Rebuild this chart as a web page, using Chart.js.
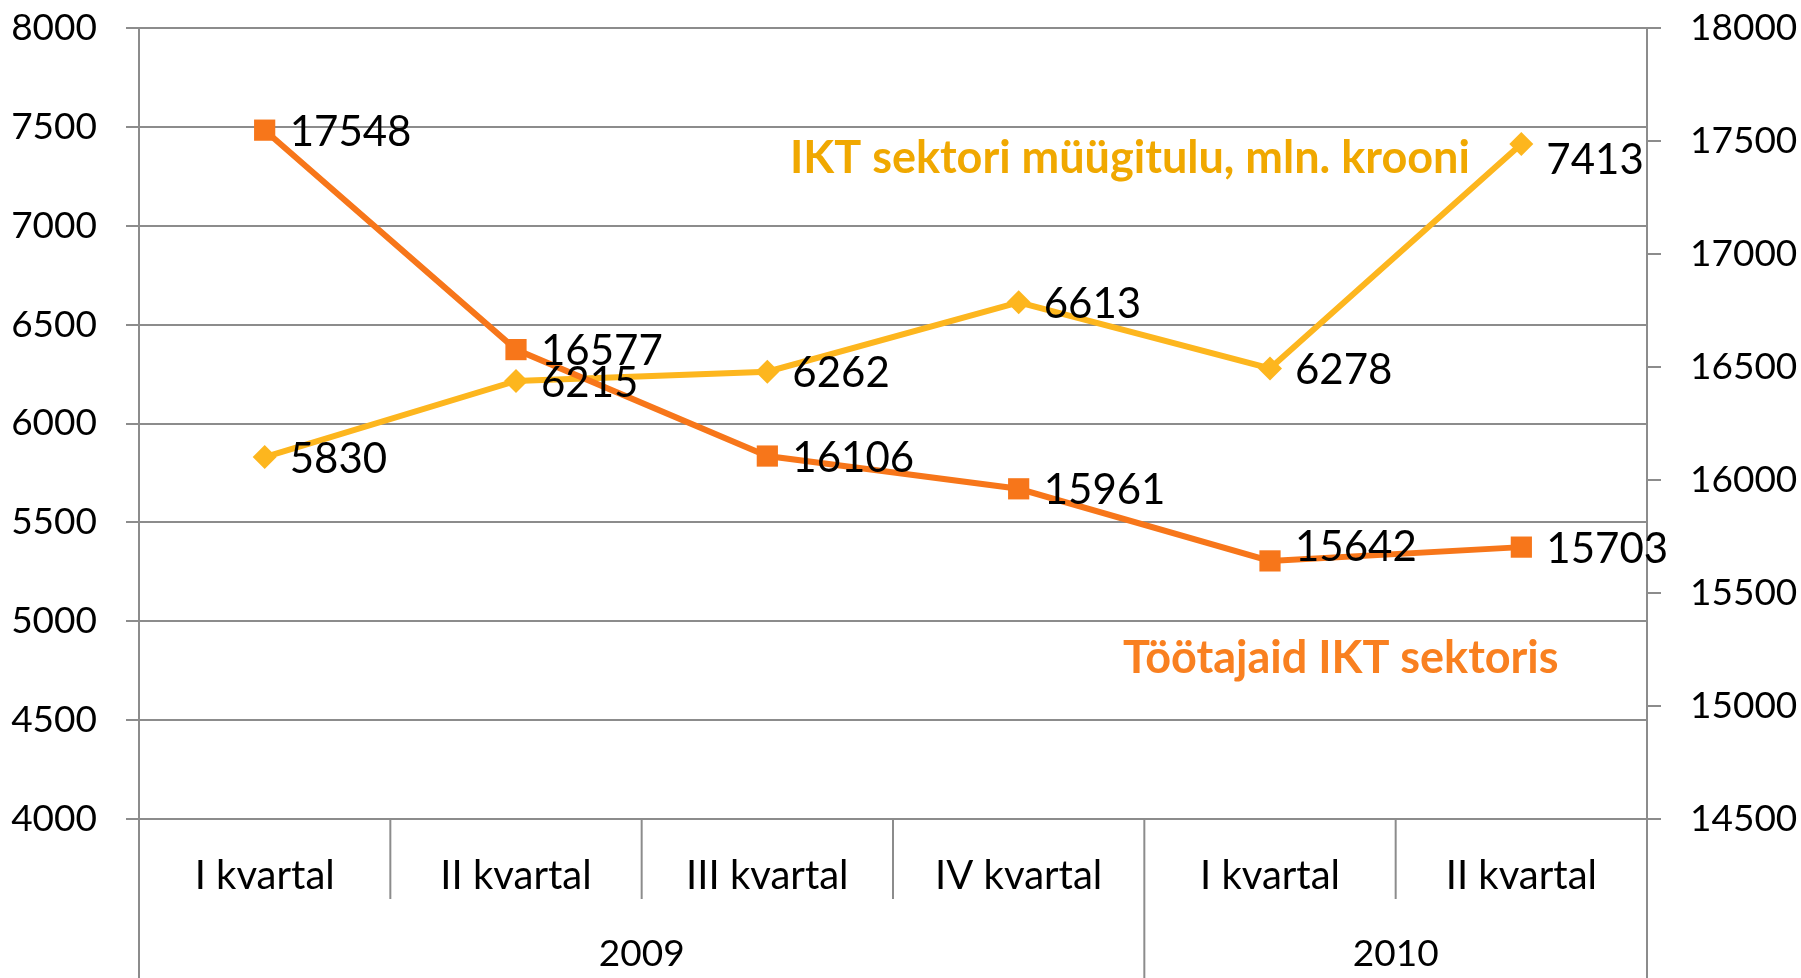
<!DOCTYPE html>
<html>
<head>
<meta charset="utf-8">
<script src="https://cdn.jsdelivr.net/npm/chart.js@4/dist/chart.umd.min.js"></script>
<style>
  html, body { margin: 0; padding: 0; background: #fff; }
  #wrap { width: 1801px; height: 978px; position: relative; }
</style>
</head>
<body>
<div id="wrap"><canvas id="chart"></canvas></div>
<script>
// quarters, grouped by year underneath
const quarters = ['I kvartal', 'II kvartal', 'III kvartal', 'IV kvartal', 'I kvartal', 'II kvartal'];
const years = ['2009', '2009', '2009', '2009', '2010', '2010'];

// left axis: sales, mln kroons
const salesLabel = 'IKT sektori müügitulu, mln. krooni';
const sales = [5830, 6215, 6262, 6613, 6278, 7413];

// right axis: employees
const staffLabel = 'Töötajaid IKT sektoris';
const staff = [17548, 16577, 16106, 15961, 15642, 15703];

const ORANGE = '#f7761a';
const YELLOW = '#fdb61e';
const GRID = '#8c8c8c';
const FONT = 'Lato, "Open Sans", sans-serif';

// value labels to the right of each point, series names and the year row
const annotate = {
    id: 'annotate',
    afterDatasetsDraw(chart, args, opts) {
        const ctx = chart.ctx;
        const nudge = opts.nudge || {};
        ctx.save();
        ctx.fillStyle = '#000';
        ctx.font = '42px ' + FONT;
        ctx.textAlign = 'left';
        ctx.textBaseline = 'middle';
        chart.data.datasets.forEach((ds, i) => {
            const meta = chart.getDatasetMeta(i);
            meta.data.forEach((pt, j) => {
                const dy = nudge[i + ':' + j] || 0;
                ctx.fillText(String(ds.data[j]), pt.x + 25, pt.y + 2 + dy);
            });
        });
        ctx.restore();
    },
    afterDraw(chart) {
        const ctx = chart.ctx;
        const area = chart.chartArea;
        const x = chart.scales.x;
        const bottom = chart.height;
        const half = (x.getPixelForValue(1) - x.getPixelForValue(0)) / 2;

        ctx.save();
        ctx.strokeStyle = GRID;
        ctx.lineWidth = 2;
        // dividers between quarters, full height at year edges
        for (let i = 0; i <= quarters.length; i++) {
            const px = x.getPixelForValue(0) - half + i * half * 2;
            const edge = i === 0 || i === quarters.length || years[i] !== years[i - 1];
            ctx.beginPath();
            ctx.moveTo(px, area.bottom);
            ctx.lineTo(px, edge ? bottom : area.bottom + 80);
            ctx.stroke();
        }

        // year labels, centred under their quarters
        ctx.fillStyle = '#000';
        ctx.font = '37px ' + FONT;
        ctx.textAlign = 'center';
        ctx.textBaseline = 'middle';
        let start = 0;
        for (let i = 1; i <= years.length; i++) {
            if (i === years.length || years[i] !== years[start]) {
                const mid = (x.getPixelForValue(start) + x.getPixelForValue(i - 1)) / 2;
                ctx.fillText(years[start], mid, area.bottom + 135);
                start = i;
            }
        }

        // series names written inside the plot
        ctx.font = 'bold 45px ' + FONT;
        ctx.textAlign = 'left';
        ctx.fillStyle = '#f0a800';
        ctx.fillText(salesLabel, area.left + 651, area.top + 130);
        ctx.fillStyle = '#f98020';
        ctx.fillText(staffLabel, area.left + 984, area.top + 630);
        ctx.restore();
    }
};

const plain = v => String(v);
// fixed axis width, and no extra room reserved above/below for the end labels
const fitY = w => s => { s.width = w; s.paddingTop = 0; s.paddingBottom = 0; };

new Chart(document.getElementById('chart'), {
    type: 'line',
    data: {
        labels: quarters,
        datasets: [
            {
                label: staffLabel,
                data: staff,
                yAxisID: 'y1',
                borderColor: ORANGE,
                backgroundColor: ORANGE,
                borderWidth: 6,
                pointStyle: 'rect',
                pointRadius: 15,
                pointBorderWidth: 0,
                tension: 0
            },
            {
                label: salesLabel,
                data: sales,
                yAxisID: 'y',
                borderColor: YELLOW,
                backgroundColor: YELLOW,
                borderWidth: 6,
                pointStyle: 'rectRot',
                pointRadius: 12,
                pointBorderWidth: 0,
                tension: 0
            }
        ]
    },
    options: {
        responsive: true,
        maintainAspectRatio: false,
        animation: false,
        layout: { padding: { top: 28, left: 0, right: 0, bottom: 0 } },
        plugins: {
            legend: { display: false },
            tooltip: { enabled: false },
            // a couple of labels were dragged off their points in the original
            annotate: { nudge: { '0:4': -15, '1:5': 14 } }
        },
        scales: {
            x: {
                offset: true,
                grid: { display: false },
                border: { display: false },
                ticks: { color: '#000', font: { family: FONT, size: 40 }, padding: 25, maxRotation: 0 },
                afterFit: s => { s.height = 159; }
            },
            y: {
                position: 'left',
                min: 4000,
                max: 8000,
                ticks: { stepSize: 500, color: '#000', font: { family: FONT, size: 37 }, padding: 29, callback: plain },
                grid: { color: GRID, lineWidth: 2, tickLength: 13 },
                border: { color: GRID, width: 2 },
                afterFit: fitY(139)
            },
            y1: {
                position: 'right',
                min: 14500,
                max: 18000,
                ticks: { stepSize: 500, color: '#000', font: { family: FONT, size: 37 }, padding: 29, callback: plain },
                grid: { drawOnChartArea: false, color: GRID, lineWidth: 2, tickLength: 14 },
                border: { color: GRID, width: 2 },
                afterFit: fitY(154)
            }
        }
    },
    plugins: [annotate]
});
</script>
</body>
</html>
